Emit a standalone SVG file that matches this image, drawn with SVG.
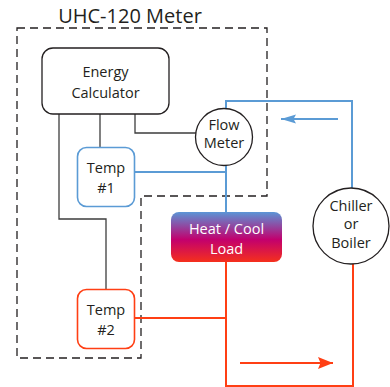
<svg xmlns="http://www.w3.org/2000/svg" width="390" height="387" viewBox="0 0 390 387">
<defs>
<linearGradient id="loadGrad" x1="0" y1="0" x2="0" y2="1">
<stop offset="0" stop-color="#5b95d6"/>
<stop offset="0.55" stop-color="#c2006e"/>
<stop offset="1" stop-color="#f5301c"/>
</linearGradient>
<marker id="arrBlue" viewBox="0 0 15 10" refX="15" refY="5" markerWidth="15" markerHeight="10" orient="auto" markerUnits="userSpaceOnUse">
<path d="M0,0.5 L15,5 L0,9.5 L2.5,5 z" fill="#5b9bd5"/>
</marker>
<marker id="arrRed" viewBox="0 0 15 13" refX="15" refY="6.5" markerWidth="15" markerHeight="13" orient="auto" markerUnits="userSpaceOnUse">
<path d="M0,0.5 L15,6.5 L0,12.5 L2.5,6.5 z" fill="#ff3f14"/>
</marker>
</defs>
<style>
text{font-family:"Open Sans","Liberation Sans",sans-serif;fill:#231f20;text-anchor:middle;}
.lbl{font-size:14.5px;}
.gray{fill:none;stroke:#3d3d3d;stroke-width:1.3;}
.blue{fill:none;stroke:#5b9bd5;stroke-width:2;}
.red{fill:none;stroke:#ff3f14;stroke-width:2;}
.dash{fill:none;stroke:#231f20;stroke-width:1.3;stroke-dasharray:8,5;}
</style>
<rect width="390" height="387" fill="#ffffff"/>
<g id="meter-boundary">
<path class="dash" d="M17,28 H267 V196 H141 V358 H17 Z"/>
<text x="130" y="23" style="font-size:20px">UHC-120 Meter</text>
</g>
<g id="connectors">
<path class="gray" d="M100,114 V147"/>
<path class="gray" d="M135,114 V133 H196"/>
<path class="gray" d="M59,114 V219 H106 V289"/>
<path class="blue" d="M135,172 H226"/>
<path class="blue" d="M226,165 V212"/>
<path class="blue" d="M226,108 V101 H352 V188"/>
<path class="blue" d="M338,119 H281" marker-end="url(#arrBlue)"/>
<path class="red" d="M226,262 V386 H353 V264"/>
<path class="red" d="M135,318 H226"/>
<path class="red" d="M240,363 H333" marker-end="url(#arrRed)"/>
</g>
<g id="energy-calculator">
<rect x="42" y="48" width="127" height="66" rx="11" fill="#fff" stroke="#231f20" stroke-width="1.3"/>
<text class="lbl" x="105.5" y="77">Energy</text>
<text class="lbl" x="105.5" y="98">Calculator</text>
</g>
<g id="flow-meter">
<circle cx="224" cy="137" r="28.5" fill="#fff" stroke="#231f20" stroke-width="1.3"/>
<text class="lbl" x="224" y="130">Flow</text>
<text class="lbl" x="224" y="148">Meter</text>
</g>
<g id="temp1">
<rect x="77.5" y="147.5" width="57" height="59" rx="9" fill="#fff" stroke="#5b9bd5" stroke-width="1.6"/>
<text class="lbl" x="106" y="173">Temp</text>
<text class="lbl" x="106" y="193">#1</text>
</g>
<g id="temp2">
<rect x="77.5" y="289.5" width="57" height="59" rx="9" fill="#fff" stroke="#ff3f14" stroke-width="1.6"/>
<text class="lbl" x="106" y="315">Temp</text>
<text class="lbl" x="106" y="335">#2</text>
</g>
<g id="load">
<rect x="171" y="212" width="111" height="50" rx="8" fill="url(#loadGrad)"/>
<text class="lbl" x="226.5" y="234" style="fill:#ffffff">Heat / Cool</text>
<text class="lbl" x="226.5" y="254" style="fill:#ffffff">Load</text>
</g>
<g id="chiller-boiler">
<circle cx="351" cy="226" r="38" fill="#fff" stroke="#231f20" stroke-width="1.3"/>
<text class="lbl" x="351" y="211">Chiller</text>
<text class="lbl" x="351" y="229">or</text>
<text class="lbl" x="351" y="248">Boiler</text>
</g>
</svg>
